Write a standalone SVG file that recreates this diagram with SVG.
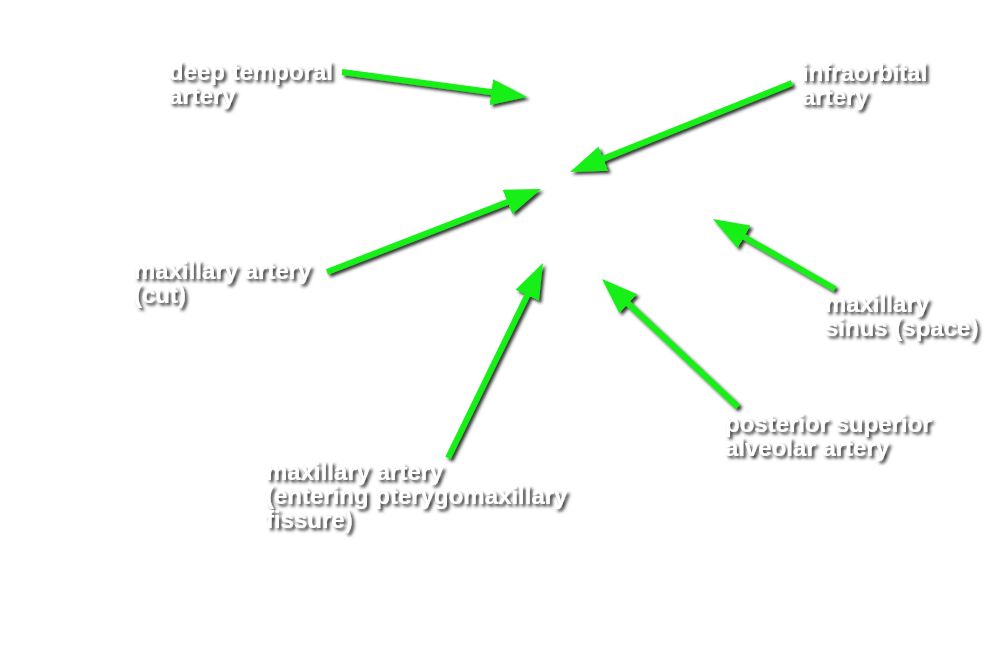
<svg xmlns="http://www.w3.org/2000/svg" width="1000" height="664" viewBox="0 0 1000 664">
<defs>
<style>
.lbl{font-family:"Liberation Sans",Arial,Helvetica,sans-serif;font-weight:bold;font-size:24px;fill:#ffffff;}
.arr{stroke:#14f014;stroke-width:6;fill:none;marker-end:url(#head);}
</style>
<filter id="sh" x="-20%" y="-20%" width="140%" height="140%">
<feDropShadow dx="2.5" dy="2.5" stdDeviation="1.4" flood-color="#1a1a1a" flood-opacity="0.9"/>
</filter>
<marker id="head" markerUnits="userSpaceOnUse" markerWidth="36" markerHeight="26" refX="16" refY="13" orient="auto" viewBox="0 0 36 26">
<path d="M0,0 L36,13 L0,26 z" fill="#14f014"/>
</marker>
</defs>
<rect width="1000" height="664" fill="#ffffff"/>
<g id="connectors" filter="url(#sh)">
<line class="arr" x1="342" y1="72" x2="507.2" y2="94.3"/>
<line class="arr" x1="792" y1="83" x2="588.6" y2="164.6"/>
<line class="arr" x1="327" y1="272" x2="522.4" y2="196.2"/>
<line class="arr" x1="448" y1="458" x2="534.2" y2="281.0"/>
<line class="arr" x1="738" y1="407" x2="616.6" y2="292.7"/>
<line class="arr" x1="835" y1="289" x2="730.3" y2="229.0"/>
</g>
<g id="deep-temporal" filter="url(#sh)"><text class="lbl" x="169" y="80">deep temporal<tspan x="169" dy="24">artery</tspan></text></g>
<g id="infraorbital" filter="url(#sh)"><text class="lbl" x="802" y="81">infraorbital<tspan x="802" dy="24">artery</tspan></text></g>
<g id="maxillary-cut" filter="url(#sh)"><text class="lbl" x="134" y="279">maxillary artery<tspan x="134" dy="24">(cut)</tspan></text></g>
<g id="maxillary-sinus" filter="url(#sh)"><text class="lbl" x="825" y="312">maxillary<tspan x="825" dy="24">sinus (space)</tspan></text></g>
<g id="psa" filter="url(#sh)"><text class="lbl" x="725" y="432">posterior superior<tspan x="725" dy="24">alveolar artery</tspan></text></g>
<g id="maxillary-entering" filter="url(#sh)"><text class="lbl" x="266" y="480">maxillary artery<tspan x="266" dy="24">(entering pterygomaxillary</tspan><tspan x="266" dy="24">fissure)</tspan></text></g>
</svg>
